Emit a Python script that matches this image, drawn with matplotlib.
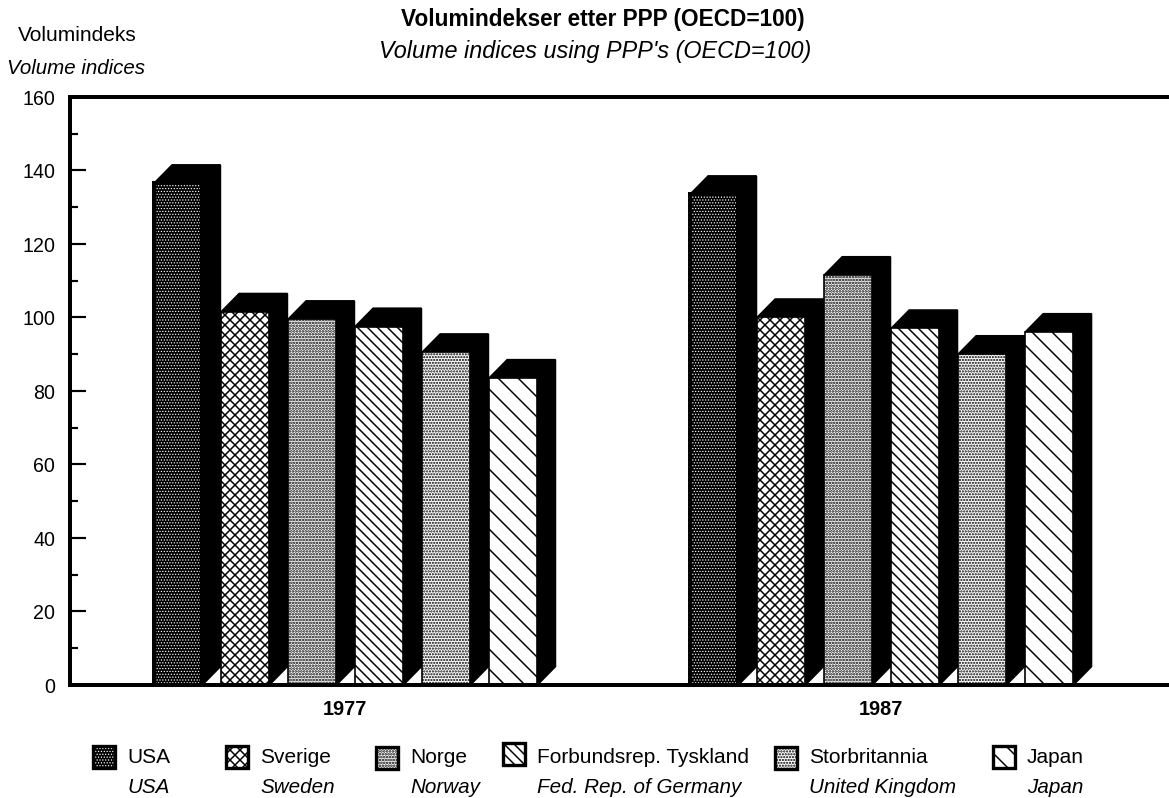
import matplotlib
matplotlib.use('Agg')
import matplotlib.pyplot as plt
from matplotlib.patches import Polygon, Rectangle

plt.rcParams['font.family'] = ['Liberation Sans', 'DejaVu Sans']

years = ['1977', '1987']
names_no = ['USA', 'Sverige', 'Norge', 'Forbundsrep. Tyskland', 'Storbritannia', 'Japan']
names_en = ['USA', 'Sweden', 'Norway', 'Fed. Rep. of Germany', 'United Kingdom', 'Japan']
values_1977 = [136.5, 101.5, 99.5, 97.5, 90.5, 83.5]
values_1987 = [133.5, 100, 111.5, 97, 90, 96]

# fill of each country: face, hatch colour, hatch, hatch line width
face = ['black', 'white', 'white', 'white', 'white', 'white']
ink = ['white', 'black', 'black', 'black', 'black', 'black']
hatches = ['.......', 'xxxx', '.......', '\\\\\\\\', '.......', '\\\\']
hatch_lw = [0.45, 0.9, 1.05, 0.9, 0.9, 0.9]

W, H = 1169, 798
DPI = 120
fig = plt.figure(figsize=(W / DPI + 0.001, H / DPI + 0.001), dpi=DPI)
ax = fig.add_axes([70 / W, 1 - 685 / H, (W - 70) / W, 588 / H])

# one x unit is one bar slot (67 px)
ax.set_xlim(-1.254, 15.149)
ax.set_ylim(0, 160)
width = 0.72
dx = 0.27
dy = 5.0


def draw_bar(x, v, i):
    x1 = x + width
    ax.add_patch(Polygon([(x1, 0), (x1 + dx, dy), (x1 + dx, v + dy), (x1, v)],
                         facecolor='black', edgecolor='black', lw=1, zorder=2))
    ax.add_patch(Polygon([(x, v), (x + dx, v + dy), (x1 + dx, v + dy), (x1, v)],
                         facecolor='black', edgecolor='black', lw=1, zorder=2))
    plt.rcParams['hatch.linewidth'] = hatch_lw[i]
    ax.add_patch(Rectangle((x, 0), width, v, facecolor=face[i], edgecolor=ink[i],
                           hatch=hatches[i], lw=0, zorder=2))
    ax.add_patch(Rectangle((x, 0), width, v, fill=False, edgecolor='black',
                           lw=2.4 if i == 0 else 1.0, zorder=2))


for i, v in enumerate(values_1977):
    draw_bar(i, v, i)
for i, v in enumerate(values_1987):
    draw_bar(i + 8, v, i)

ax.set_xticks([2.85, 10.85])
ax.set_xticklabels(years, fontweight='bold', fontsize=12)
ax.tick_params(axis='x', length=0, pad=9)

ax.set_yticks(range(0, 161, 20))
ax.set_yticks(range(10, 160, 20), minor=True)
ax.tick_params(axis='y', which='major', direction='in', length=9.6, width=1.3, labelsize=11.8, pad=9)
ax.tick_params(axis='y', which='minor', direction='in', length=4.8, width=1.3)

ax.spines['right'].set_visible(False)
for s in ['top', 'left', 'bottom']:
    ax.spines[s].set_linewidth(2.4)


def fig_text(x, y, s, **kw):
    fig.text(x / W, 1 - y / H, s, va='center', **kw)


fig_text(603, 19, 'Volumindekser etter PPP (OECD=100)', ha='center', fontweight='bold', fontsize=13.6)
fig_text(595, 51, "Volume indices using PPP's (OECD=100)", ha='center', style='italic', fontsize=14)
fig_text(18, 35, 'Volumindeks', ha='left', fontsize=12.5)
fig_text(7, 68, 'Volume indices', ha='left', style='italic', fontsize=12.3)

# legend
swatch_x = [93, 226, 376, 503, 775, 993]
swatch_y = [746, 746, 747, 743, 747, 746]
label_x = [127, 260, 410, 537, 809, 1027]
for i in range(6):
    sx, sy = swatch_x[i], swatch_y[i]
    corner = (sx / W, 1 - (sy + 22) / H)
    plt.rcParams['hatch.linewidth'] = hatch_lw[i]
    fig.add_artist(Rectangle(corner, 22 / W, 22 / H, transform=fig.transFigure,
                             facecolor=face[i], edgecolor=ink[i], hatch=hatches[i], lw=0))
    fig.add_artist(Rectangle(corner, 22 / W, 22 / H, transform=fig.transFigure,
                             fill=False, edgecolor='black', lw=2))
    fig_text(label_x[i], 757, names_no[i], ha='left', fontsize=12.5)
    fig_text(label_x[i], 787, names_en[i], ha='left', style='italic', fontsize=12.4)

fig.savefig('out.png', dpi=DPI, facecolor='white')
